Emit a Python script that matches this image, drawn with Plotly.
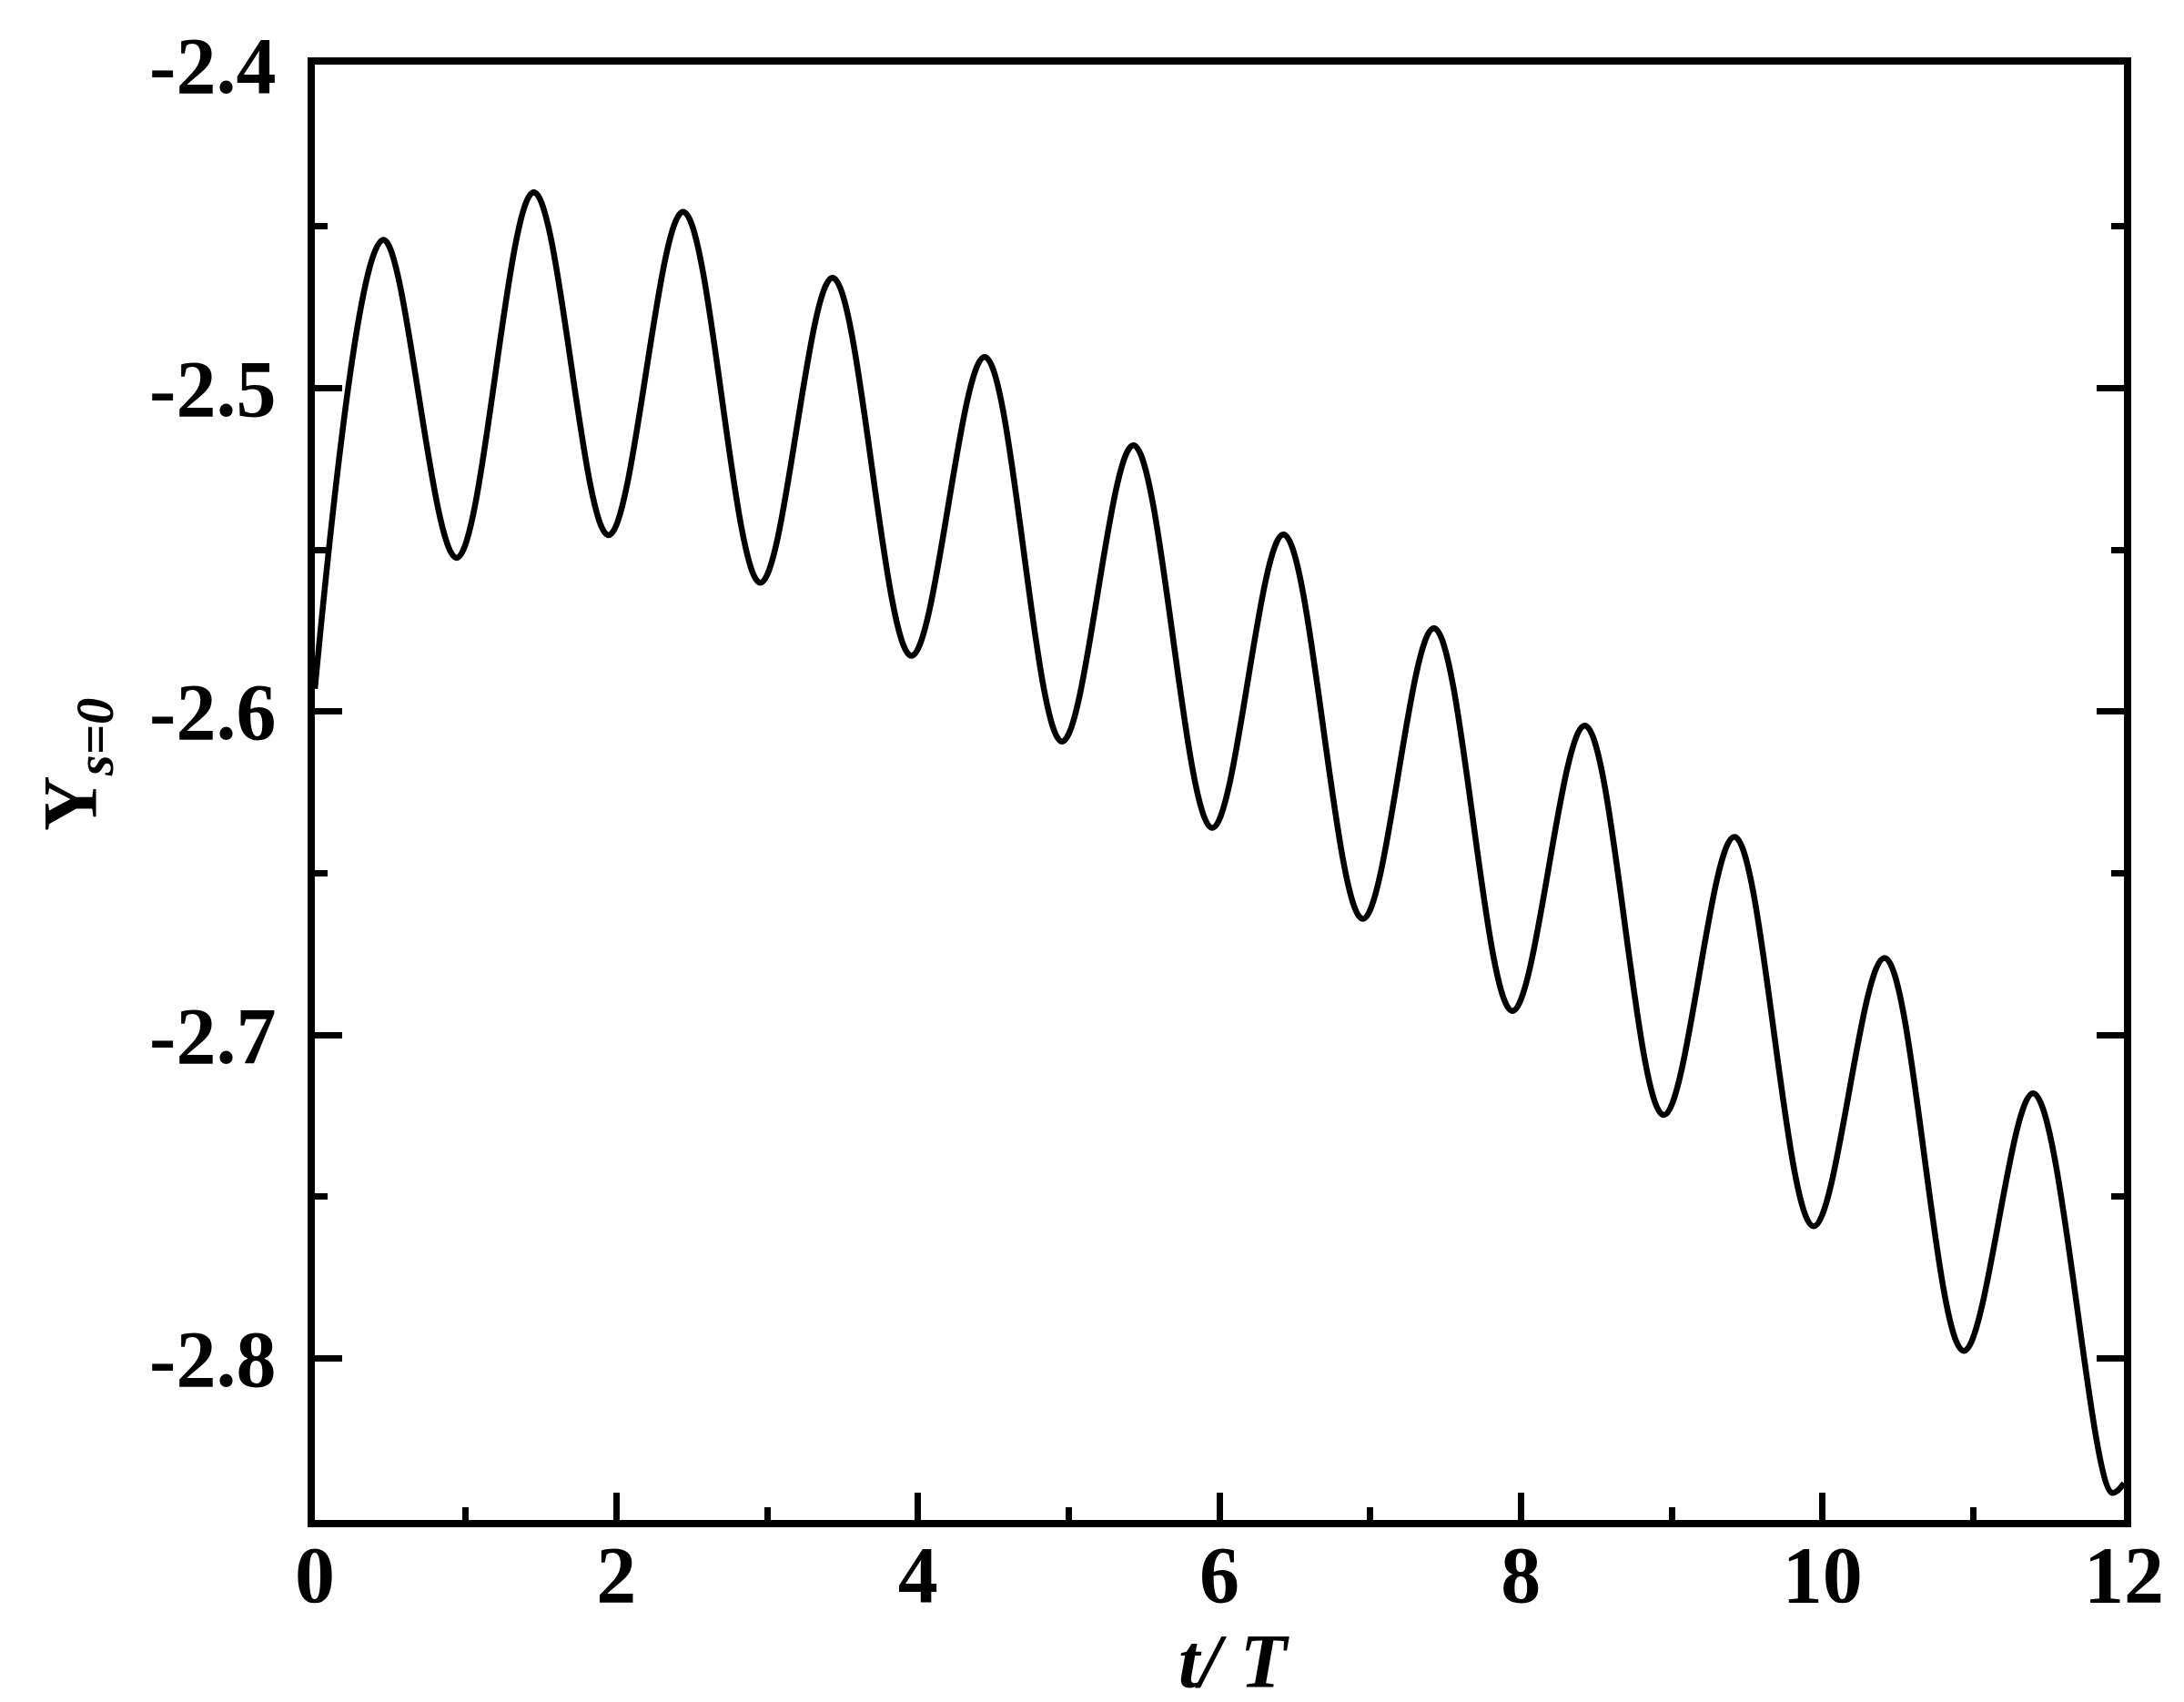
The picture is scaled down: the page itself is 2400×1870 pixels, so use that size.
import plotly.graph_objects as go

# ---- data (t/T, Y_s=0) ----
t_values = [0.0, 0.455, 0.94, 1.452, 1.948, 2.443, 2.955, 3.434, 3.957, 4.443, 4.956,
            5.43, 5.952, 6.425, 6.951, 7.423, 7.943, 8.424, 8.947, 9.416, 9.941,
            10.412, 10.937, 11.398, 11.92, 12.0]
y_values = [-2.593, -2.4542, -2.5525, -2.4395, -2.5455, -2.4455, -2.5602, -2.4659,
            -2.5828, -2.4904, -2.6093, -2.5177, -2.636, -2.5453, -2.6641, -2.5743,
            -2.6926, -2.6044, -2.7248, -2.6388, -2.7592, -2.6762, -2.7977, -2.7181,
            -2.8416, -2.8386]

x_tickvals = [0, 2, 4, 6, 8, 10, 12]
x_ticktext = ["0", "2", "4", "6", "8", "10", "12"]
x_minorvals = [1, 3, 5, 7, 9, 11]
y_tickvals = [-2.8, -2.7, -2.6, -2.5, -2.4]
y_ticktext = ["-2.8", "-2.7", "-2.6", "-2.5", "-2.4"]
y_minorvals = [-2.75, -2.65, -2.55, -2.45]

FONT = "Liberation Serif, Times New Roman, serif"

fig = go.Figure()
fig.add_trace(go.Scatter(
    x=t_values, y=y_values, mode="lines",
    line=dict(color="black", width=6.5, shape="spline", smoothing=1.0),
    showlegend=False, hoverinfo="skip",
))

W, H = 2400, 1870
L, R, T, B = 338, 74, 63, 208

axis_common = dict(
    showgrid=False, zeroline=False, showline=True, linecolor="black", linewidth=8,
    ticks="inside", tickcolor="black", tickwidth=7, ticklen=30,
    tickfont=dict(family=FONT, size=88, color="black", weight="bold"),
)

fig.update_xaxes(
    range=[0, 12], tickmode="array", tickvals=x_tickvals, ticktext=x_ticktext,
    mirror=True, ticklabelstandoff=-24,
    minor=dict(tickmode="array", tickvals=x_minorvals, ticks="inside",
               ticklen=14, tickwidth=7, tickcolor="black", showgrid=False),
    **axis_common,
)
fig.update_yaxes(
    range=[-2.85, -2.4], tickmode="array", tickvals=y_tickvals, ticktext=y_ticktext,
    mirror="ticks", ticklabelstandoff=17,
    minor=dict(tickmode="array", tickvals=y_minorvals, ticks="inside",
               ticklen=14, tickwidth=7, tickcolor="black", showgrid=False),
    **axis_common,
)

plot_w = W - L - R
plot_h = H - T - B

fig.add_annotation(
    text="<b><i>t/ T</i></b>", xref="paper", yref="paper",
    x=(1348 - L) / plot_w, y=-(1770 - (H - B)) / plot_h,
    xanchor="center", yanchor="top", showarrow=False, borderpad=0,
    font=dict(family=FONT, size=84, color="black"),
)
fig.add_annotation(
    text="<b>Y</b><sub><b><i>s=0</i></b></sub>", xref="paper", yref="paper",
    x=(76 - L) / plot_w, y=((H - B) - 832) / plot_h,
    xanchor="center", yanchor="middle", textangle=-90, showarrow=False,
    font=dict(family=FONT, size=84, color="black"),
)

fig.update_layout(
    width=W, height=H,
    margin=dict(l=L, r=R, t=T, b=B, autoexpand=False),
    paper_bgcolor="white", plot_bgcolor="white",
)

fig.write_html("out.html")
